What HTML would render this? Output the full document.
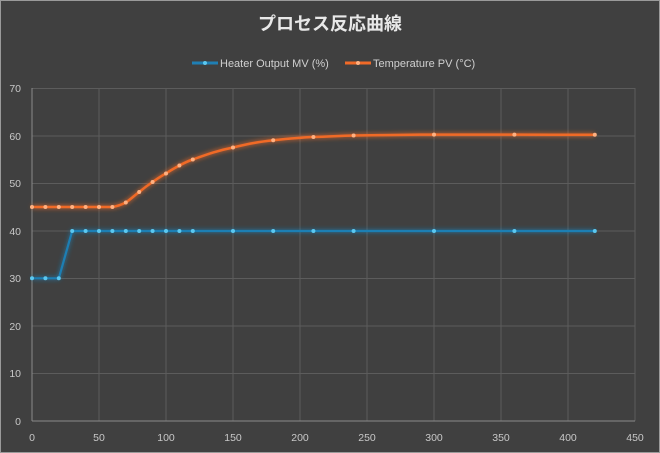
<!DOCTYPE html>
<html><head><meta charset="utf-8"><style>
body{margin:0;background:#404040;}
svg{display:block;font-family:"Liberation Sans","Noto Sans CJK JP",sans-serif;}
</style></head><body>
<svg width="660" height="453" viewBox="0 0 660 453">
<defs>
<filter id="g" x="-10%" y="-10%" width="120%" height="120%"><feGaussianBlur stdDeviation="2.5" result="b"/><feMerge><feMergeNode in="b"/><feMergeNode in="SourceGraphic"/></feMerge></filter>
</defs>
<rect x="0.5" y="0.5" width="659" height="452" fill="#404040" stroke="#9a9a9a"/>
<text x="330" y="30" text-anchor="middle" font-size="18" font-weight="bold" fill="#e8e8e8">プロセス反応曲線</text>
<line x1="192" y1="63" x2="218" y2="63" stroke="#1f7fb4" stroke-width="3"/><circle cx="205" cy="63" r="2" fill="#5bc8f0"/>
<text x="220" y="67" font-size="11" fill="#d0d0d0">Heater Output MV (%)</text>
<line x1="345" y1="63" x2="371" y2="63" stroke="#f06a28" stroke-width="3"/><circle cx="358" cy="63" r="2" fill="#ffb080"/>
<text x="373" y="67" font-size="11" fill="#d0d0d0">Temperature PV (°C)</text>
<g stroke="#5c5c5c" stroke-width="1">
<line x1="32" y1="88.5" x2="635" y2="88.5"/><line x1="32" y1="136" x2="635" y2="136"/><line x1="32" y1="183.5" x2="635" y2="183.5"/><line x1="32" y1="231" x2="635" y2="231"/><line x1="32" y1="278.5" x2="635" y2="278.5"/><line x1="32" y1="326" x2="635" y2="326"/><line x1="32" y1="373.5" x2="635" y2="373.5"/>
<line x1="99" y1="88" x2="99" y2="421"/><line x1="166" y1="88" x2="166" y2="421"/><line x1="233" y1="88" x2="233" y2="421"/><line x1="300" y1="88" x2="300" y2="421"/><line x1="367" y1="88" x2="367" y2="421"/><line x1="434" y1="88" x2="434" y2="421"/><line x1="501" y1="88" x2="501" y2="421"/><line x1="568" y1="88" x2="568" y2="421"/><line x1="635" y1="88" x2="635" y2="421"/>
</g>
<line x1="32" y1="88" x2="32" y2="421" stroke="#8a8a8a"/>
<line x1="32" y1="421" x2="635" y2="421" stroke="#8a8a8a"/>
<g font-size="10.5" fill="#c8c8c8" text-anchor="end">
<text x="21" y="92">70</text><text x="21" y="140">60</text><text x="21" y="187">50</text><text x="21" y="235">40</text><text x="21" y="282">30</text><text x="21" y="330">20</text><text x="21" y="377">10</text><text x="21" y="425">0</text>
</g>
<g font-size="10.5" fill="#c8c8c8" text-anchor="middle">
<text x="32" y="441">0</text><text x="99" y="441">50</text><text x="166" y="441">100</text><text x="233" y="441">150</text><text x="300" y="441">200</text><text x="367" y="441">250</text><text x="434" y="441">300</text><text x="501" y="441">350</text><text x="568" y="441">400</text><text x="635" y="441">450</text>
</g>
<g filter="url(#g)">
<polyline fill="none" stroke="#1f7fb4" stroke-width="2.2" points="32,278.3 45.4,278.3 58.8,278.3 72.2,231 85.6,231 99,231 112.4,231 125.8,231 139.2,231 152.6,231 166,231 179.4,231 192.8,231 233,231 273.2,231 313.4,231 353.6,231 434,231 514.4,231 594.8,231"/>
<path fill="none" stroke="#f06a28" stroke-width="2.5" d="M32,207 L112.4,207 C118,206 121,205 125.8,202.5 C131,199 135,195 139.2,192 C144,188 148,185 152.6,182 C157,179 161,176 166,173.5 C171,170 175,168 179.4,165.5 C185,162.5 188,161 192.8,159.5 C208,154 218,150.5 233,147.5 C250,143.5 258,142 273.2,140.3 C290,138.5 300,137.5 313.4,137 C330,136.5 340,135.8 353.6,135.5 C390,135 410,134.7 434,134.6 C460,134.6 490,134.6 514.4,134.6 C540,134.6 570,134.8 594.8,134.8"/>
</g>
<g fill="#5bc8f0">
<circle cx="32" cy="278.3" r="2"/><circle cx="45.4" cy="278.3" r="2"/><circle cx="58.8" cy="278.3" r="2"/><circle cx="72.2" cy="231" r="2"/><circle cx="85.6" cy="231" r="2"/><circle cx="99" cy="231" r="2"/><circle cx="112.4" cy="231" r="2"/><circle cx="125.8" cy="231" r="2"/><circle cx="139.2" cy="231" r="2"/><circle cx="152.6" cy="231" r="2"/><circle cx="166" cy="231" r="2"/><circle cx="179.4" cy="231" r="2"/><circle cx="192.8" cy="231" r="2"/><circle cx="233" cy="231" r="2"/><circle cx="273.2" cy="231" r="2"/><circle cx="313.4" cy="231" r="2"/><circle cx="353.6" cy="231" r="2"/><circle cx="434" cy="231" r="2"/><circle cx="514.4" cy="231" r="2"/><circle cx="594.8" cy="231" r="2"/>
</g>
<g fill="#ffb080">
<circle cx="32" cy="207" r="2"/><circle cx="45.4" cy="207" r="2"/><circle cx="58.8" cy="207" r="2"/><circle cx="72.2" cy="207" r="2"/><circle cx="85.6" cy="207" r="2"/><circle cx="99" cy="207" r="2"/><circle cx="112.4" cy="207" r="2"/><circle cx="125.8" cy="202.5" r="2"/><circle cx="139.2" cy="192" r="2"/><circle cx="152.6" cy="182" r="2"/><circle cx="166" cy="173.5" r="2"/><circle cx="179.4" cy="165.5" r="2"/><circle cx="192.8" cy="159.5" r="2"/><circle cx="233" cy="147.5" r="2"/><circle cx="273.2" cy="140.3" r="2"/><circle cx="313.4" cy="137" r="2"/><circle cx="353.6" cy="135.5" r="2"/><circle cx="434" cy="134.6" r="2"/><circle cx="514.4" cy="134.6" r="2"/><circle cx="594.8" cy="134.8" r="2"/>
</g>
</svg>
</body></html>
